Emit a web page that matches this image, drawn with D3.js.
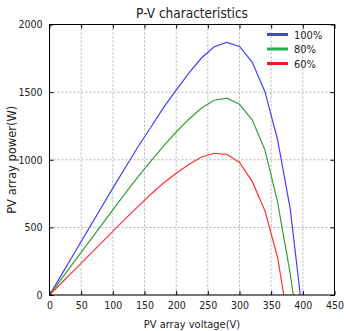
<!DOCTYPE html>
<html>
<head>
<meta charset="utf-8">
<script src="https://cdn.jsdelivr.net/npm/d3@7"></script>
<style>
  body { margin: 0; background: #fff; }
  text { font-family: "DejaVu Sans Condensed", "DejaVu Sans", sans-serif; }
</style>
</head>
<body>
<div id="chart"></div>
<script>
// voltage samples (V) and power (W) for each irradiance level
const volt100 = [0, 20, 40, 60, 80, 100, 120, 140, 160, 180, 200, 220, 240, 260, 280, 300, 320, 340, 360, 380, 396];
const power100 = [0, 158, 316, 474, 632, 790, 945, 1098, 1240, 1385, 1515, 1640, 1752, 1836, 1868, 1838, 1722, 1505, 1150, 640, 0];

const volt80 = [0, 20, 40, 60, 80, 100, 120, 140, 160, 180, 200, 220, 240, 260, 280, 300, 320, 340, 360, 380, 385];
const power80 = [0, 126, 252, 378, 504, 630, 755, 875, 990, 1100, 1205, 1300, 1382, 1440, 1455, 1410, 1295, 1075, 690, 160, 0];

const volt60 = [0, 20, 40, 60, 80, 100, 120, 140, 160, 180, 200, 220, 240, 260, 280, 300, 320, 340, 360, 370];
const power60 = [0, 94, 188, 282, 376, 470, 565, 655, 745, 828, 900, 965, 1020, 1048, 1040, 980, 840, 625, 280, 0];

const seriesNames = ["100%", "80%", "60%"];
const seriesColors = ["#4040ff", "#33a033", "#ff3333"];
const legendColors = ["#3f48cc", "#22b14c", "#ed1c24"];

const xTicks = [0, 50, 100, 150, 200, 250, 300, 350, 400, 450];
const yTicks = [0, 500, 1000, 1500, 2000];

const series = [
  {name: seriesNames[0], v: volt100, p: power100},
  {name: seriesNames[1], v: volt80, p: power80},
  {name: seriesNames[2], v: volt60, p: power60}
];

let margin = {top: 24.5, right: 9.5, bottom: 36, left: 49.5};
let width = 344 - margin.left - margin.right;
let height = 331 - margin.top - margin.bottom;

let svg = d3.select("#chart").append("svg")
  .attr("width", 344)
  .attr("height", 331);

let g = svg.append("g")
  .attr("transform", "translate(" + margin.left + "," + margin.top + ")");

let x = d3.scaleLinear().domain([0, 450]).range([0, width]);
let y = d3.scaleLinear().domain([0, 2000]).range([height, 0]);

// grid
g.append("g").selectAll("line")
  .data(xTicks)
  .enter().append("line")
  .attr("x1", d => x(d)).attr("x2", d => x(d))
  .attr("y1", 0).attr("y2", height)
  .attr("stroke", "#b0b0b0")
  .attr("stroke-dasharray", "2,2");

g.append("g").selectAll("line")
  .data(yTicks)
  .enter().append("line")
  .attr("x1", 0).attr("x2", width)
  .attr("y1", d => y(d)).attr("y2", d => y(d))
  .attr("stroke", "#b0b0b0")
  .attr("stroke-dasharray", "2,2");

// curves
let line = d3.line()
  .x(d => x(d[0]))
  .y(d => y(d[1]));

series.forEach((s, i) => {
  g.append("path")
    .datum(s.v.map((v, k) => [v, s.p[k]]))
    .attr("fill", "none")
    .attr("stroke", seriesColors[i])
    .attr("stroke-width", 1.2)
    .attr("d", line);
});

// axes with inward ticks on all sides
let xAxis = d3.axisBottom(x).tickValues(xTicks).tickSizeInner(-4).tickSizeOuter(0).tickPadding(7);
let yAxis = d3.axisLeft(y).tickValues(yTicks).tickFormat(d3.format("d"))
  .tickSizeInner(-4).tickSizeOuter(0).tickPadding(7);

let gx = g.append("g")
  .attr("transform", "translate(0," + height + ")")
  .call(xAxis);
let gy = g.append("g").call(yAxis);

g.append("g").call(d3.axisTop(x).tickValues(xTicks).tickSizeInner(-4).tickSizeOuter(0).tickFormat(""));
g.append("g").attr("transform", "translate(" + width + ",0)")
  .call(d3.axisRight(y).tickValues(yTicks).tickSizeInner(-4).tickSizeOuter(0).tickFormat(""));

g.selectAll(".domain").remove();
g.selectAll(".tick line").attr("stroke", "#000");
gx.selectAll("text").attr("font-size", 10.5).attr("fill", "#222");
gy.selectAll("text").attr("font-size", 10.5).attr("fill", "#222");

// frame
g.append("rect")
  .attr("width", width).attr("height", height)
  .attr("fill", "none").attr("stroke", "#000").attr("stroke-width", 1);

// title and axis labels
svg.append("text")
  .attr("x", margin.left + width / 2).attr("y", 18)
  .attr("text-anchor", "middle")
  .attr("font-size", 13.5).attr("fill", "#222")
  .text("P-V characteristics");

svg.append("text")
  .attr("x", margin.left + width / 2).attr("y", 328)
  .attr("text-anchor", "middle")
  .attr("font-size", 11).attr("fill", "#222")
  .text("PV array voltage(V)");

svg.append("text")
  .attr("transform", "translate(16," + (margin.top + height / 2) + ") rotate(-90)")
  .attr("text-anchor", "middle")
  .attr("font-size", 11.5).attr("fill", "#222")
  .style("font-family", "'DejaVu Sans', sans-serif")
  .text("PV array power(W)");

// legend
let legend = svg.append("g")
  .attr("transform", "translate(267,34.5)");

let items = legend.selectAll("g")
  .data(seriesNames)
  .enter().append("g")
  .attr("transform", (d, i) => "translate(0," + (i * 14.5) + ")");

items.append("line")
  .attr("x1", 0).attr("x2", 21)
  .attr("stroke", (d, i) => legendColors[i])
  .attr("stroke-width", 3);

items.append("text")
  .attr("x", 27).attr("y", 4)
  .attr("font-size", 11).attr("fill", "#222")
  .text(d => d);
</script>
</body>
</html>
